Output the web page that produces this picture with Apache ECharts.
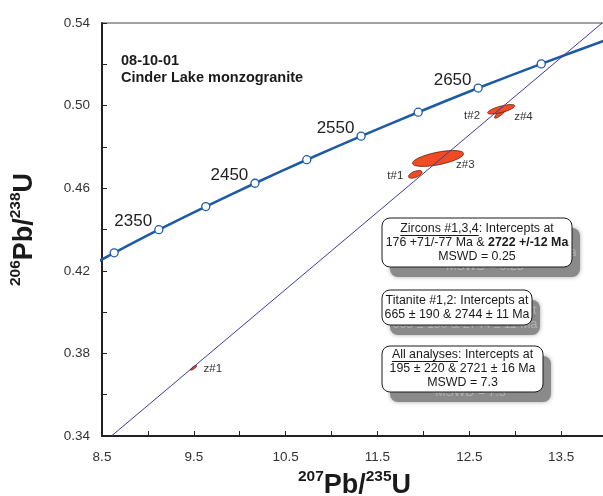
<!DOCTYPE html>
<html>
<head>
<meta charset="utf-8">
<script src="https://cdn.jsdelivr.net/npm/echarts@6/dist/echarts.min.js"></script>
<style>
  html, body { margin: 0; padding: 0; background: #fff; }
  #chart { width: 603px; height: 496px; }
</style>
</head>
<body>
<div id="chart"></div>
<script>
// concordia age marks (Ma) and the ratios read at each mark
var ages = [2250, 2300, 2350, 2400, 2450, 2500, 2550, 2600, 2650, 2700, 2750];
var conc207 = [8.171, 8.633, 9.119, 9.630, 10.166, 10.730, 11.322, 11.944, 12.597, 13.284, 14.004];
var conc206 = [0.4177, 0.4287, 0.4399, 0.4511, 0.4624, 0.4738, 0.4852, 0.4968, 0.5085, 0.5202, 0.5320];
var ageLabels = ['', '', '2350', '', '2450', '', '2550', '', '2650', '', ''];

// discordia (end points on the frame)
var discX = [8.603, 13.947];
var discY = [0.34, 0.54];

// error ellipses: centre, half range in x and y, correlation
var ellNames = ['z#1', 't#1', 'z#3', 't#2', 'z#4'];
var ellX = [9.497, 11.912, 12.160, 12.846, 12.848];
var ellY = [0.3730, 0.4667, 0.4744, 0.4967, 0.4982];
var ellSx = [0.0340, 0.0740, 0.2780, 0.0700, 0.1480];
var ellSy = [0.00115, 0.00185, 0.00385, 0.00280, 0.00230];
var ellRho = [0.82, 0.55, 0.60, 0.88, 0.72];

// axis ticks
var xMin = 8.5, xMax = 14.0, xStep = 0.5;
var yMin = 0.34, yMax = 0.54, yStep = 0.02;

var FONT = 'Liberation Sans, Arial, sans-serif';
// where each ellipse name sits, in pixels from its centre
var ellLabelPos = {
  'z#1': [10, 1, 'left'],
  't#1': [-12, 1, 'right'],
  'z#3': [18, 6, 'left'],
  't#2': [-21, 3, 'right'],
  'z#4': [13, 8, 'left']
};

var concData = [];
for (var i = 0; i < ages.length; i++) concData.push([conc207[i], conc206[i]]);
var markData = [];
for (var i = 0; i < ages.length; i++) {
  if (conc207[i] >= xMin && conc207[i] <= xMax) {
    markData.push({ value: [conc207[i], conc206[i]], label: { show: !!ageLabels[i], formatter: ageLabels[i] } });
  }
}
var discData = [[discX[0], discY[0]], [discX[1], discY[1]]];
var ellData = [];
for (var i = 0; i < ellNames.length; i++) {
  ellData.push({ name: ellNames[i], value: [ellX[i], ellY[i], ellSx[i], ellSy[i], ellRho[i]] });
}

function renderEllipse(params, api) {
  var cx = api.value(0), cy = api.value(1), sx = api.value(2), sy = api.value(3), r = api.value(4);
  var k = Math.sqrt(1 - r * r);
  var pts = [];
  for (var j = 0; j < 72; j++) {
    var t = j / 72 * Math.PI * 2;
    pts.push(api.coord([cx + sx * Math.cos(t), cy + sy * (r * Math.cos(t) + k * Math.sin(t))]));
  }
  var c = api.coord([cx, cy]);
  var name = ellNames[params.dataIndex];
  var p = ellLabelPos[name];
  return {
    type: 'group',
    children: [
      { type: 'polygon', shape: { points: pts },
        style: { fill: '#f04b22', stroke: '#5e1a0a', lineWidth: 0.8 } },
      { type: 'text', x: c[0] + p[0], y: c[1] + p[1],
        style: { text: name, fill: '#333', font: '11.5px ' + FONT, align: p[2], verticalAlign: 'middle' } }
    ]
  };
}

// text width helper for underlines
var measureCtx = document.createElement('canvas').getContext('2d');
function textWidth(str, font) {
  measureCtx.font = font;
  return measureCtx.measureText(str).width;
}

// rounded box with a grey drop shadow, like the original plot
function makeBox(x, y, w, h, cx, lines, underline) {
  var fontSize = 12.4, lh = 14;
  var font = fontSize + 'px ' + FONT;
  var text = lines.join('\n');
  var rich = { b: { fontWeight: 'bold', fontSize: fontSize, fontFamily: FONT, lineHeight: lh } };
  var ty = y + (h - lh * lines.length) / 2;
  var sdx = 8, sdy = 10;
  var plain = text.replace(/\{b\|([^}]*)\}/g, '$1');
  var kids = [
    { type: 'rect', shape: { x: x + sdx, y: y + sdy, width: w, height: h, r: 8 },
      style: { fill: '#8a8a8a', shadowBlur: 4, shadowColor: 'rgba(0,0,0,0.35)' } },
    { type: 'text', x: cx + sdx, y: ty + sdy,
      style: { text: plain, font: font, fill: '#b0b0b0', align: 'center', verticalAlign: 'top', lineHeight: lh } },
    { type: 'rect', shape: { x: x, y: y, width: w, height: h, r: 8 },
      style: { fill: '#fff', stroke: '#1a1a1a', lineWidth: 1 } },
    { type: 'text', x: cx, y: ty,
      style: { text: text, font: font, fill: '#1a1a1a', align: 'center', verticalAlign: 'top', lineHeight: lh, rich: rich } }
  ];
  if (underline) {
    var full = textWidth(lines[0].replace(/\{b\|([^}]*)\}/g, '$1'), font);
    var part = textWidth(underline, font);
    var x0 = cx - full / 2;
    var uy = Math.round(ty + lh / 2 + fontSize / 2) + 0.5;
    kids.push({ type: 'line', shape: { x1: x0, y1: uy, x2: x0 + part, y2: uy },
      style: { stroke: '#1a1a1a', lineWidth: 1 } });
  }
  return { type: 'group', children: kids };
}

var chart = echarts.init(document.getElementById('chart'));
var axisCommon = {
  type: 'value',
  axisLine: { show: true, onZero: false, lineStyle: { color: '#222', width: 2 } },
  axisTick: { show: true, inside: true, length: 5, lineStyle: { color: '#222', width: 1 } },
  splitLine: { show: false },
  nameLocation: 'middle'
};
var titleRich = {
  s: { fontSize: 15.5, fontWeight: 'bold', fontFamily: FONT, color: '#1a1a1a', verticalAlign: 'top', lineHeight: 16 },
  m: { fontSize: 27, fontWeight: 'bold', fontFamily: FONT, color: '#1a1a1a', verticalAlign: 'bottom', lineHeight: 30 }
};

var option = {
  animation: false,
  backgroundColor: '#fff',
  grid: { left: 102, top: 23, right: -4, bottom: 60, show: true, borderColor: '#444', borderWidth: 1,
          outerBoundsMode: 'none', containLabel: false },
  xAxis: echarts.util.merge({
    min: xMin, max: xMax, interval: xStep,
    name: '{s|207}{m|Pb/}{s|235}{m|U}',
    nameGap: 33,
    nameTextStyle: { rich: titleRich },
    axisLabel: {
      margin: 14, fontSize: 13.5, fontFamily: FONT, color: '#333',
      formatter: function (v) { return Math.round((v - xMin) / xStep) % 2 === 0 ? v.toFixed(1) : ''; }
    }
  }, axisCommon, true),
  yAxis: echarts.util.merge({
    min: yMin, max: yMax, interval: yStep,
    name: '{s|206}{m|Pb/}{s|238}{m|U}',
    nameGap: 64,
    nameTextStyle: { rich: titleRich },
    axisLabel: {
      margin: 12, fontSize: 13.5, fontFamily: FONT, color: '#333',
      formatter: function (v) { return Math.round((v - yMin) / yStep) % 2 === 0 ? v.toFixed(2) : ''; }
    }
  }, axisCommon, true),
  series: [
    {
      type: 'line', data: concData, smooth: 0.3, showSymbol: false, z: 2,
      lineStyle: { color: '#1f5aa6', width: 2.6 }
    },
    {
      type: 'custom', data: ellData, renderItem: renderEllipse, z: 3
    },
    {
      type: 'line', data: discData, showSymbol: false, z: 4,
      lineStyle: { color: '#3b3b9e', width: 1 }
    },
    {
      type: 'scatter', data: markData, symbol: 'circle', symbolSize: 8, z: 5,
      itemStyle: { color: '#fff', borderColor: '#1f5aa6', borderWidth: 1.3, opacity: 1 },
      label: { position: 'left', distance: 2, offset: [0, -8], fontSize: 17, fontFamily: FONT, color: '#222' }
    }
  ],
  graphic: [
    { type: 'text', x: 121, y: 52,
      style: { text: '08-10-01\nCinder Lake monzogranite', font: 'bold 14.5px ' + FONT, fill: '#1a1a1a', lineHeight: 17 } },
    makeBox(382, 218, 190, 49, 477,
      ['Zircons #1,3,4: Intercepts at', '176 +71/-77 Ma & {b|2722 +/-12 Ma}', 'MSWD = 0.25'], 'Zircons #1,3,4'),
    makeBox(382, 290, 150, 35, 457,
      ['Titanite #1,2: Intercepts at', '665 ± 190 & 2744 ± 11 Ma']),
    makeBox(382, 346, 161, 46, 462.5,
      ['All analyses: Intercepts at', '195 ± 220 & 2721 ± 16 Ma', 'MSWD = 7.3'], 'All analyses')
  ]
};
chart.setOption(option);
</script>
</body>
</html>
